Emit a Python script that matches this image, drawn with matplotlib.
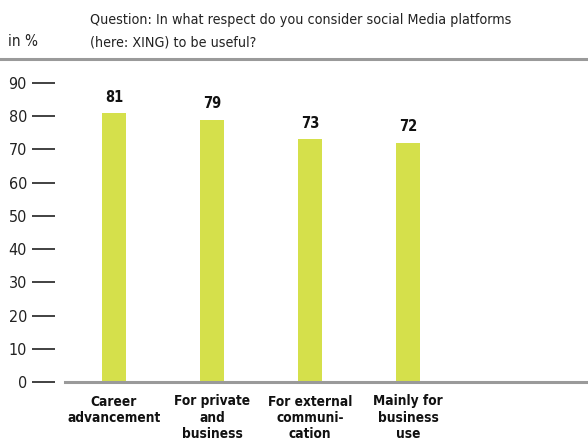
import matplotlib.pyplot as plt

categories = ["Career\nadvancement", "For private\nand\nbusiness",
              "For external\ncommuni-\ncation", "Mainly for\nbusiness\nuse"]
values = [81, 79, 73, 72]
yticks = [0, 10, 20, 30, 40, 50, 60, 70, 80, 90]

plt.rcParams['font.family'] = ['DejaVu Sans']
plt.rcParams['font.stretch'] = 'condensed'

W, H = 588, 443
fig = plt.figure(figsize=(W / 100, H / 100), dpi=100)
ax = fig.add_axes([65 / W, 61 / H, 1 - 65 / W, 312.3 / H])

x = list(range(len(values)))
ax.bar(x, values, width=0.245, color="#d5e04b")
for xi, v in zip(x, values):
    ax.text(xi, v + 2.5, str(v), ha="center", va="bottom",
            fontsize=10.5, fontweight="bold", color="#111111")

ax.set_xlim(-0.5, 4.837)
ax.set_ylim(0, 94)

ax.set_xticks(x)
ax.set_xticklabels(categories, fontsize=9.8, fontweight="bold",
                   linespacing=1.2, va="top", color="#111111")
ax.tick_params(axis="x", length=0, pad=9)

ax.set_yticks(yticks)
ax.tick_params(axis="y", direction="out", length=16.6, width=1.3,
               color="#333333", labelsize=11.5, pad=3.6, labelcolor="#222222")
ax.spines["left"].set_position(("outward", 7.2))
ax.spines["left"].set_visible(False)
for s in ["top", "right"]:
    ax.spines[s].set_visible(False)
ax.spines["bottom"].set_color("#9a9a9a")
ax.spines["bottom"].set_linewidth(2.2)

# header
fig.text(8 / W, 1 - 46 / H, "in %", fontsize=11, va="baseline", color="#222222")
fig.text(90 / W, 1 - 24 / H,
         "Question: In what respect do you consider social Media platforms",
         fontsize=10.3, va="baseline", color="#222222")
fig.text(90 / W, 1 - 46 / H, "(here: XING) to be useful?",
         fontsize=10.3, va="baseline", color="#222222")
fig.add_artist(plt.Line2D([0, 1], [1 - 58.5 / H, 1 - 58.5 / H],
                          transform=fig.transFigure, color="#9a9a9a", lw=2.2))

fig.savefig("out.png", dpi=100)
